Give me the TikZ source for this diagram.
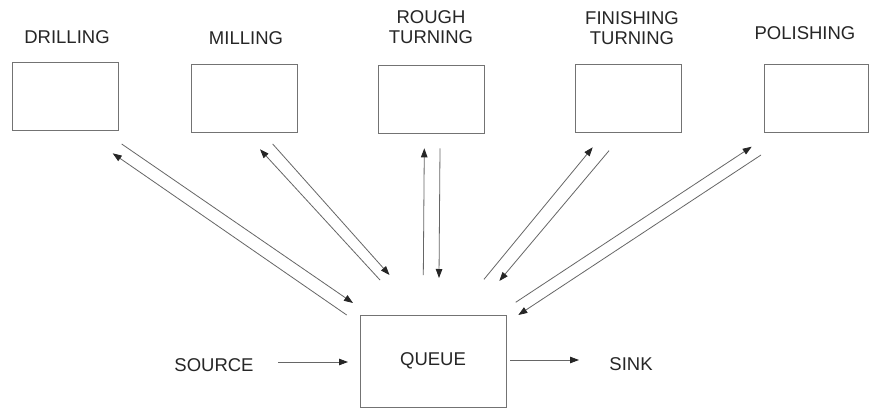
\documentclass[tikz,border=0pt]{standalone}
\usepackage{fontspec}
\setmainfont{Liberation Sans}
\usetikzlibrary{arrows.meta}
\begin{document}
\begin{tikzpicture}[x=1pt,y=-1pt,
  machine/.style={draw=black!55,line width=1pt,fill=white,inner sep=0pt,minimum width=106pt,minimum height=68pt},
  qbox/.style={draw=black!55,line width=1pt,inner sep=0pt,minimum width=146pt,minimum height=92pt,text=black!85,font=\fontsize{18.5}{20}\selectfont},
  lbl/.style={inner sep=0pt,text=black!85,font=\fontsize{18.5}{20}\selectfont,align=center},
  flow/.style={draw=black!60,line width=0.8pt,-{Triangle[length=9pt,width=6.5pt,color=black!85]}}]
\useasboundingbox[fill=white] (0,0) rectangle (870,408);
% machines
\node[machine] (drill) at (65,96.5) {};
\node[machine] (mill) at (244,98) {};
\node[machine] (rough) at (431.5,99) {};
\node[machine] (finish) at (628,98.5) {};
\node[machine,minimum width=104pt] (polish) at (816,98) {};
% labels
\node[lbl,anchor=base] (ldrill) at (67,43) {DRILLING};
\node[lbl,anchor=base] (lmill) at (246,44) {MILLING};
\node[lbl,anchor=north] (lrough) at (431,10) {ROUGH\\TURNING};
\node[lbl,anchor=north] (lfinish) at (632,11) {FINISHING\\TURNING};
\node[lbl,anchor=base] (lpolish) at (805,39.5) {POLISHING};
% queue, source, sink
\node[qbox] (queue) at (433,361) {QUEUE};
\node[lbl,anchor=base] (source) at (214,371) {SOURCE};
\node[lbl,anchor=base] (sink) at (631,370) {SINK};
% arrow end points
\coordinate (d1s) at (121.7,144);   \coordinate (d1e) at (353,303);
\coordinate (d2s) at (346.7,315);   \coordinate (d2e) at (112.7,153.3);
\coordinate (m1s) at (272.7,144);   \coordinate (m1e) at (389.5,275);
\coordinate (m2s) at (380,280);     \coordinate (m2e) at (260,149.3);
\coordinate (r1s) at (423.3,275);   \coordinate (r1e) at (424.3,148.3);
\coordinate (r2s) at (440,148.3);   \coordinate (r2e) at (439,278);
\coordinate (f1s) at (484,279.3);   \coordinate (f1e) at (592.7,147.3);
\coordinate (f2s) at (609,150.7);   \coordinate (f2e) at (499.3,281);
\coordinate (p1s) at (515.7,302.3); \coordinate (p1e) at (751.7,146.7);
\coordinate (p2s) at (761,155);     \coordinate (p2e) at (518.3,315);
\coordinate (srcs) at (278,362);    \coordinate (srce) at (348,362);
\coordinate (snks) at (510,360);    \coordinate (snke) at (579,360);
% connectors
\draw[flow] (d1s) -- (d1e);
\draw[flow] (d2s) -- (d2e);
\draw[flow] (m1s) -- (m1e);
\draw[flow] (m2s) -- (m2e);
\draw[flow] (r1s) -- (r1e);
\draw[flow] (r2s) -- (r2e);
\draw[flow] (f1s) -- (f1e);
\draw[flow] (f2s) -- (f2e);
\draw[flow] (p1s) -- (p1e);
\draw[flow] (p2s) -- (p2e);
\draw[flow] (srcs) -- (srce);
\draw[flow] (snks) -- (snke);
\end{tikzpicture}
\end{document}
